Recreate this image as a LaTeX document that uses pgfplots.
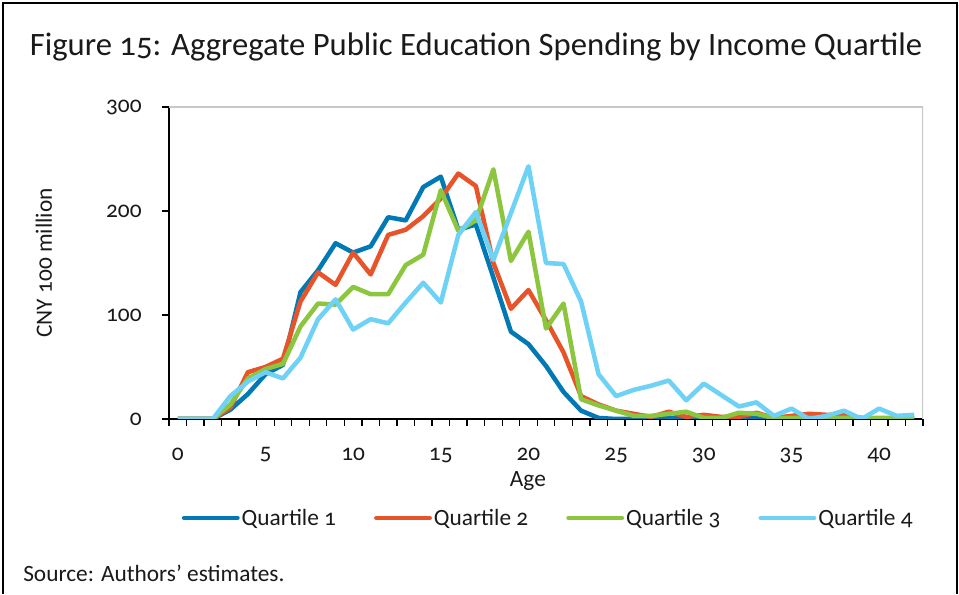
\documentclass[border=0pt]{standalone}
\usepackage{fontspec}
\setmainfont{Carlito}[Numbers=OldStyle]
\usepackage{pgfplots}
\pgfplotsset{compat=1.18}
\definecolor{qone}{HTML}{0079B4}
\definecolor{qtwo}{HTML}{E8542A}
\definecolor{qthree}{HTML}{8CC63F}
\definecolor{qfour}{HTML}{6ED1F6}
\definecolor{frameg}{HTML}{C8C8C8}
\definecolor{txt}{HTML}{1A1A1A}
\begin{document}
\begin{tikzpicture}[x=0.75pt,y=0.75pt]
\path (0,0) rectangle (959,594);
\draw[line width=1.5pt] (3,0) -- (3,591) -- (957,591) -- (957,0);
\node[anchor=base,font=\fontsize{24.5}{28}\selectfont,txt] at (476,538) {Figure 15: Aggregate Public Education Spending by Income Quartile};
\node[anchor=base west,font=\fontsize{17.5}{20}\selectfont,txt,inner sep=0pt] at (23,12) {Source: Authors' estimates.};
\begin{axis}[
  at={(126.75pt,131.25pt)}, anchor=south west,
  scale only axis, width=565.5pt, height=234pt,
  xmin=-0.5, xmax=42.5, ymin=0, ymax=300,
  xtick={-0.5,0.5,...,42.5}, xticklabels={},
  extra x ticks={0,5,...,40},
  extra x tick style={major tick length=0pt},
  ytick={0,100,200,300},
  major tick length=5pt,
  tick align=outside,
  tick style={black, line width=1pt},
  axis x line*=bottom, axis y line*=left,
  axis line style={-, black, line width=1.2pt},
  /pgf/number format/assume math mode=true,
  ticklabel style={font=\fontsize{17.5}{20}\selectfont, text=txt},
  xticklabel style={yshift=-18pt},
  yticklabel style={xshift=-12pt},
  xlabel={Age}, ylabel={CNY 100 million},
  xlabel style={font=\fontsize{17.5}{20}\selectfont, text=txt, at={(axis description cs:0.476,-0.199)}, anchor=center},
  ylabel style={font=\fontsize{17.5}{20}\selectfont, text=txt, at={(axis description cs:-0.166,0.5)}, anchor=center},
  every axis plot/.append style={line width=3.4pt, line join=round},
  legend columns=4,
  legend style={at={(axis description cs:0.503,-0.317)}, anchor=center, draw=none, fill=none,
    font=\fontsize{17.5}{20}\selectfont, text=txt, /tikz/every even column/.append style={column sep=27pt},
    nodes={inner sep=1.5pt}, inner sep=0pt},
  legend image code/.code={\draw[#1, line cap=round] (0,0) -- (40pt,0);},
]
\draw[frameg, line width=1.2pt] (rel axis cs:0,1) -- (rel axis cs:1,1) -- (rel axis cs:1,0);
\addplot[qone] coordinates {(0,0)(1,0)(2,0)(3,9)(4,24)(5,43)(6,52)(7,122)(8,143)(9,169)(10,160)(11,166)(12,194)(13,191)(14,223)(15,233)(16,182)(17,187)(18,136)(19,84)(20,72)(21,51)(22,26)(23,8)(24,1)(25,0)(26,0)(27,0)(28,1)(29,0)(30,0)(31,0)(32,2)(33,1)(34,0)(35,0)(36,0)(37,0)(38,0)(39,0)(40,0)(41,0)(42,0)};
\addplot[qtwo] coordinates {(0,0)(1,0)(2,0)(3,11)(4,45)(5,50)(6,58)(7,113)(8,141)(9,129)(10,160)(11,139)(12,177)(13,182)(14,195)(15,212)(16,236)(17,224)(18,150)(19,106)(20,124)(21,95)(22,64)(23,22)(24,14)(25,8)(26,5)(27,2)(28,7)(29,2)(30,4)(31,2)(32,2)(33,6)(34,1)(35,3)(36,5)(37,4)(38,4)(39,1)(40,0)(41,0)(42,0)};
\addplot[qthree] coordinates {(0,0)(1,0)(2,0)(3,14)(4,39)(5,48)(6,53)(7,89)(8,111)(9,110)(10,127)(11,120)(12,120)(13,148)(14,158)(15,220)(16,181)(17,191)(18,240)(19,152)(20,180)(21,87)(22,111)(23,19)(24,13)(25,8)(26,3)(27,3)(28,5)(29,7)(30,1)(31,1)(32,6)(33,5)(34,1)(35,1)(36,1)(37,1)(38,1)(39,1)(40,1)(41,1)(42,1)};
\addplot[qfour] coordinates {(0,0)(1,0)(2,0)(3,22)(4,36)(5,45)(6,39)(7,59)(8,96)(9,115)(10,86)(11,96)(12,92)(13,112)(14,131)(15,112)(16,177)(17,199)(18,153)(19,198)(20,243)(21,150)(22,149)(23,113)(24,43)(25,22)(26,28)(27,32)(28,37)(29,18)(30,34)(31,23)(32,12)(33,16)(34,3)(35,10)(36,0)(37,3)(38,8)(39,0)(40,10)(41,3)(42,4)};
\legend{Quartile 1, Quartile 2, Quartile 3, Quartile 4}
\end{axis}
\end{tikzpicture}
\end{document}
